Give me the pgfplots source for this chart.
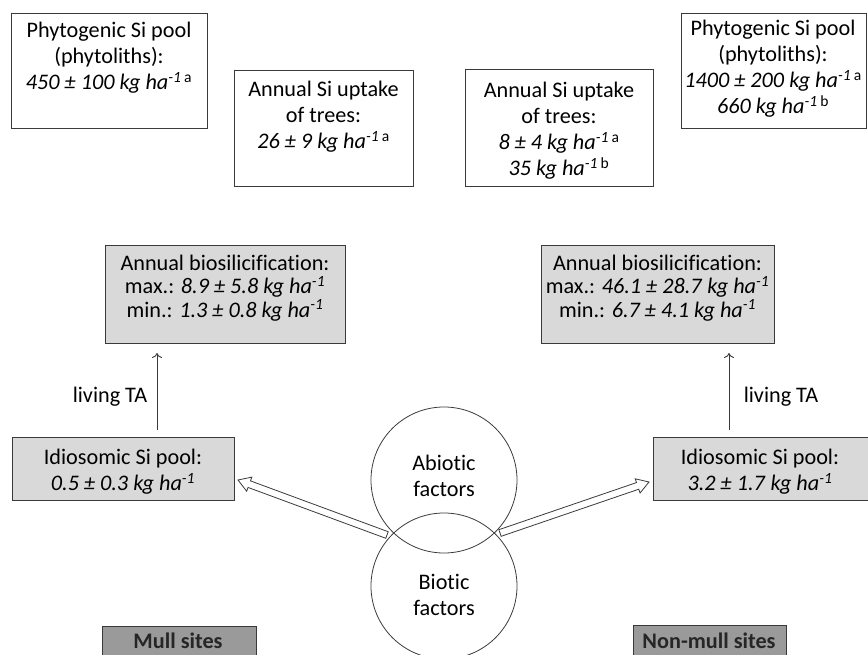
\documentclass[border=0pt]{standalone}
\usepackage{pgfplots}
\pgfplotsset{compat=1.18}
\usepackage{fontspec}
\setmainfont{Carlito}[Ligatures=CommonOff]
\usetikzlibrary{arrows.meta}

\definecolor{lightbox}{HTML}{D9D9D9}
\definecolor{darkbox}{HTML}{9A9A9A}
\definecolor{edge}{HTML}{3A3A3A}

% kg ha^-1 with an optional upright superscript letter
\newcommand{\kgha}[1]{\textit{kg ha\textsuperscript{-1}}\textsuperscript{\,#1}}
\newcommand{\kghaplain}{\textit{kg ha\textsuperscript{-1}}}

\begin{document}
\begin{tikzpicture}
\begin{axis}[
    x=1bp, y=1bp,
    xmin=0, xmax=868, ymin=0, ymax=655,
    y dir=reverse,
    hide axis,
    clip=false,
    every axis plot/.append style={line width=0.9bp, draw=edge, line cap=rect, line join=miter, mark=none},
    nodes={font=\fontsize{22.3}{26}\selectfont, align=center, inner sep=0pt},
  ]
  % top row boxes (white)
  \addplot[fill=white] coordinates {(11,13) (207,13) (207,128) (11,128) (11,13)};
  \addplot[fill=white] coordinates {(234,70) (413,70) (413,186) (234,186) (234,70)};
  \addplot[fill=white] coordinates {(465,69) (653,69) (653,186) (465,186) (465,69)};
  \addplot[fill=white] coordinates {(681,13) (866,13) (866,128) (681,128) (681,13)};
  % annual biosilicification (grey)
  \addplot[fill=lightbox] coordinates {(105,245) (345,245) (345,343) (105,343) (105,245)};
  \addplot[fill=lightbox] coordinates {(541,245) (774,245) (774,343) (541,343) (541,245)};
  % idiosomic pools (grey)
  \addplot[fill=lightbox] coordinates {(12,437) (234,437) (234,500) (12,500) (12,437)};
  \addplot[fill=lightbox] coordinates {(653,437) (870,437) (870,500) (653,500) (653,437)};
  % site labels (dark grey)
  \addplot[fill=darkbox] coordinates {(102,626) (256,626) (256,670) (102,670) (102,626)};
  \addplot[fill=darkbox] coordinates {(633,625) (786,625) (786,670) (633,670) (633,625)};

  % hollow arrows from the factors to the idiosomic pools
  \addplot[fill=white, line width=0.8bp] coordinates {
    (388.21,531.72) (250.47,480.88) (251.86,477.12) (238,480)
    (246.66,491.20) (248.05,487.44) (385.79,538.28) (388.21,531.72)};
  \addplot[fill=white, line width=0.8bp] coordinates {
    (501.13,536.31) (638.78,489.20) (640.08,492.99) (649,482)
    (635.22,478.79) (636.52,482.58) (498.87,529.69) (501.13,536.31)};

  % living TA arrows
  \draw[line width=0.9bp, draw=edge, -{To[length=5bp,width=10bp]}] (axis cs:157,430) -- (axis cs:157,353);
  \draw[line width=0.9bp, draw=edge, -{To[length=5bp,width=10bp]}] (axis cs:729,430) -- (axis cs:729,353);

  % factor circles
  \draw[line width=0.8bp, draw=edge] (axis cs:444,480) circle[radius=73bp];
  \draw[line width=0.8bp, draw=edge] (axis cs:444,586) circle[radius=73bp];

  % texts
  \node at (axis cs:109,58) {Phytogenic Si pool\\(phytoliths):\\\textit{450 ± 100} \kgha{a}};
  \node at (axis cs:323.5,117) {Annual Si uptake\\of trees:\\\textit{26 ± 9} \kgha{a}};
  \node at (axis cs:559,131) {Annual Si uptake\\of trees:\\\textit{8 ± 4} \kgha{a}\\\textit{35} \kgha{b}};
  \node at (axis cs:773,69) {Phytogenic Si pool\\(phytoliths):\\\textit{1400 ± 200} \kgha{a}\\\textit{660} \kgha{b}};

  \node[font=\fontsize{22.3}{23.5}\selectfont] at (axis cs:225,288)
    {Annual biosilicification:\\max.: \textit{8.9 ± 5.8} \kghaplain\\min.: \textit{1.3 ± 0.8} \kghaplain};
  \node[font=\fontsize{22.3}{23.5}\selectfont] at (axis cs:657.5,288)
    {Annual biosilicification:\\max.: \textit{46.1 ± 28.7} \kghaplain\\min.: \textit{6.7 ± 4.1} \kghaplain};

  \node at (axis cs:123,472) {Idiosomic Si pool:\\\textit{0.5 ± 0.3} \kghaplain};
  \node at (axis cs:760,472) {Idiosomic Si pool:\\\textit{3.2 ± 1.7} \kghaplain};

  \node at (axis cs:110,397) {living TA};
  \node at (axis cs:781,397) {living TA};

  \node at (axis cs:444,476) {Abiotic\\factors};
  \node at (axis cs:444,595) {Biotic\\factors};

  \node[text=black!85] at (axis cs:178,641) {\textbf{Mull sites}};
  \node[text=black!85] at (axis cs:709,641) {\textbf{Non-mull sites}};

  \coordinate (bl) at (axis cs:0,655);
  \coordinate (tr) at (axis cs:868,0);
\end{axis}
\pgfresetboundingbox
\useasboundingbox (bl) rectangle (tr);
\end{tikzpicture}
\end{document}
